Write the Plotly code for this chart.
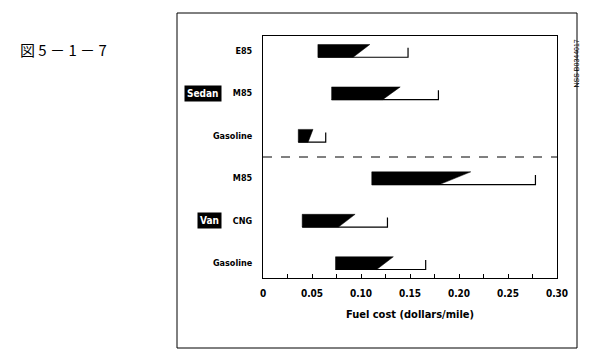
import plotly.graph_objects as go

# ---- data ----
groups = ["Sedan", "Sedan", "Sedan", "Van", "Van", "Van"]
fuels = ["E85", "M85", "Gasoline", "M85", "CNG", "Gasoline"]
low = [0.056, 0.070, 0.036, 0.111, 0.040, 0.074]
solid_end = [0.092, 0.122, 0.046, 0.180, 0.077, 0.116]
dark_tip = [0.109, 0.140, 0.051, 0.212, 0.094, 0.133]
high = [0.148, 0.179, 0.064, 0.278, 0.127, 0.166]
x_ticks = [0, 0.05, 0.10, 0.15, 0.20, 0.25, 0.30]
x_tick_labels = ["0", "0.05", "0.10", "0.15", "0.20", "0.25", "0.30"]

FONT = "DejaVu Sans Condensed, Liberation Sans Narrow, sans-serif"
pos = list(range(len(fuels)))
half = 0.15  # half bar thickness in y units

OFF = 8  # page body margin
FW, FH = 595, 352

fig = go.Figure()

# outline bracket (bottom edge + right end tick)
bx, by = [], []
for i in pos:
    bx += [low[i], high[i], high[i], None]
    by += [i + half, i + half, i - half * 0.5, None]
fig.add_trace(go.Scatter(x=bx, y=by, mode="lines",
                         line=dict(color="black", width=1.2),
                         hoverinfo="skip", showlegend=False))

# dark tapered part
for i in pos:
    fig.add_trace(go.Scatter(
        x=[low[i], dark_tip[i], solid_end[i], low[i], low[i]],
        y=[i - half, i - half, i + half, i + half, i - half],
        mode="lines", fill="toself", fillcolor="black",
        line=dict(color="black", width=0.5),
        hoverinfo="skip", showlegend=False))

# dashed separator between Sedan and Van
fig.add_shape(type="line", xref="x domain", x0=0, x1=1, yref="y", y0=2.5, y1=2.5,
              line=dict(color="black", width=1, dash="dash"))

# layout in screen pixels (reference), converted to figure coords
L, R, T, B = 263 - OFF, 557 - OFF, 36 - OFF, 278 - OFF
W, H = R - L, B - T
def px_x(px): return (px - OFF - L) / W
def px_y(py): return (B - (py - OFF)) / H

fig.add_shape(type="rect", xref="paper", yref="paper",
              x0=px_x(177), x1=px_x(577), y0=px_y(348), y1=px_y(13),
              line=dict(color="black", width=1))

# group labels
for name, idx in [("Sedan", 1), ("Van", 4)]:
    fig.add_annotation(text="<b>" + name + "</b>", xref="paper", yref="y",
                       x=px_x(222), y=idx, xanchor="right", showarrow=False,
                       font=dict(family=FONT, size=10, color="white"),
                       bgcolor="black", borderpad=2)

# figure number
fig.add_annotation(text="図 5 － 1 － 7", xref="paper", yref="paper",
                   x=px_x(18), y=px_y(37), xanchor="left", showarrow=False,
                   font=dict(family="Noto Sans CJK JP", size=15, color="black"))

# vertical id text
fig.add_annotation(text="NSS B0344017", xref="paper", yref="paper",
                   x=px_x(582), y=px_y(38), textangle=-90, showarrow=False,
                   font=dict(family="Liberation Sans", size=7, color="black"))

fig.update_layout(
    width=FW, height=FH,
    margin=dict(l=L, r=FW - R, t=T, b=FH - B),
    paper_bgcolor="white", plot_bgcolor="white",
    font=dict(family=FONT, color="black"),
    xaxis=dict(range=[0, 0.30], tickvals=x_ticks,
               ticktext=["<b>" + t + "</b>" for t in x_tick_labels],
               ticks="inside", ticklen=4, tickcolor="black",
               minor=dict(dtick=0.025, ticks="inside", ticklen=4, tickcolor="black"),
               showgrid=False, zeroline=False, showline=True, linecolor="black",
               linewidth=1, mirror=True, ticklabelstandoff=6,
               tickfont=dict(family=FONT, size=10, color="black"),
               title=dict(text="<b>Fuel cost (dollars/mile)</b>", standoff=12,
                          font=dict(family=FONT, size=11, color="black"))),
    yaxis=dict(range=[5.35, -0.35], tickvals=pos,
               ticktext=["<b>" + f + "</b>" for f in fuels],
               ticks="", showgrid=False, zeroline=False, showline=True,
               linecolor="black", linewidth=1, mirror=True,
               ticklabelstandoff=8,
               tickfont=dict(family=FONT, size=9, color="black")),
)

fig.write_html("out.html")
